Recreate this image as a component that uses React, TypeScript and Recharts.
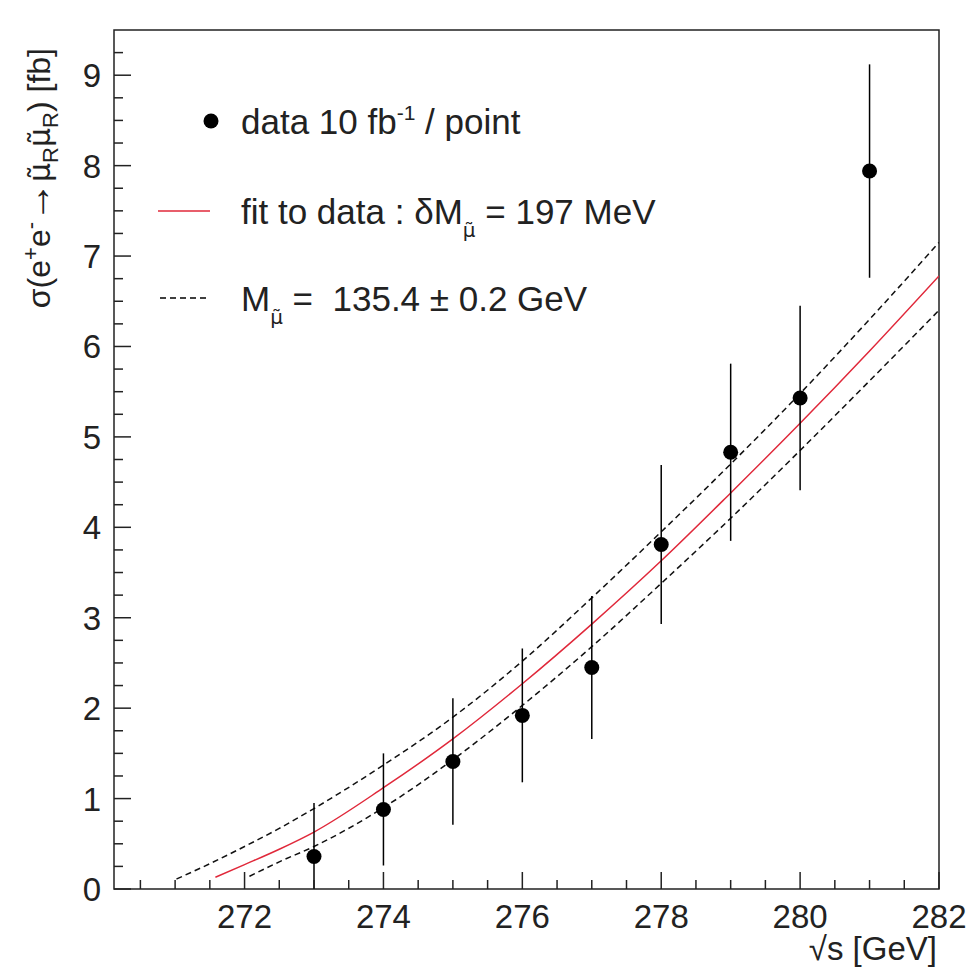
import { ComposedChart, Line, Scatter, ErrorBar, XAxis, YAxis, ReferenceArea } from 'recharts';

// measured points, one per sqrt(s)
const sqrtS = [273, 274, 275, 276, 277, 278, 279, 280, 281];
const sigma = [0.36, 0.88, 1.41, 1.92, 2.45, 3.81, 4.83, 5.43, 7.94];
const sigmaErr = [0.59, 0.62, 0.7, 0.74, 0.79, 0.88, 0.98, 1.02, 1.18];

// fitted curve (red)
const fitX = [271.58, 272, 272.5, 273, 274, 275, 276, 277, 278, 279, 280, 281, 282];
const fitY = [0.13, 0.27, 0.44, 0.63, 1.12, 1.66, 2.27, 2.93, 3.63, 4.38, 5.15, 5.95, 6.78];

// mass - 0.2 GeV (upper dashed)
const upperX = [271.02, 271.5, 272, 272.5, 273, 274, 275, 276, 277, 278, 279, 280, 281, 282];
const upperY = [0.11, 0.28, 0.47, 0.67, 0.89, 1.37, 1.9, 2.52, 3.22, 3.95, 4.7, 5.48, 6.3, 7.15];

// mass + 0.2 GeV (lower dashed)
const lowerX = [272.07, 272.5, 273, 274, 275, 276, 277, 278, 279, 280, 281, 282];
const lowerY = [0.14, 0.3, 0.47, 0.9, 1.43, 2.03, 2.68, 3.38, 4.1, 4.85, 5.62, 6.4];

const xMajorTicks = [272, 274, 276, 278, 280, 282];
const yMajorTicks = [0, 1, 2, 3, 4, 5, 6, 7, 8, 9];

const X_MIN = 270.12;
const X_MAX = 282;
const Y_MAX = 9.5;

const FONT = '"Liberation Sans", Arial, Helvetica, sans-serif';
const INK = '#222';
const RED = '#e0283a';
const SMUON = 'μ\u0303'; // mu with combining tilde

// error bars stop at the frame like in ROOT (lower arm cut at 0)
const points = sqrtS.map((x, i) => ({
  x,
  y: sigma[i],
  err: [Math.min(sigmaErr[i], sigma[i]), sigmaErr[i]],
}));
const fit = fitX.map((x, i) => ({ x, y: fitY[i] }));
const upper = upperX.map((x, i) => ({ x, y: upperY[i] }));
const lower = lowerX.map((x, i) => ({ x, y: lowerY[i] }));

// ROOT-style subdivisions: 0.5 GeV on x, 0.25 fb on y
const xTicks: number[] = [];
for (let v = 270.5; v <= X_MAX; v += 0.5) xTicks.push(v);
const yTicks: number[] = [];
for (let v = 0; v < Y_MAX; v += 0.25) yTicks.push(v);

function XTick({ x, y, payload }: any) {
  const major = xMajorTicks.includes(payload.value);
  return (
    <g>
      <line x1={x} y1={y} x2={x} y2={y - (major ? 17 : 9)} stroke={INK} strokeWidth={1.5} />
      {major && (
        <text x={x} y={y + 39} textAnchor="middle" fontSize={33} fill={INK} fontFamily={FONT}>
          {payload.value}
        </text>
      )}
    </g>
  );
}

function YTick({ x, y, payload }: any) {
  const major = yMajorTicks.includes(payload.value);
  return (
    <g>
      <line x1={x} y1={y} x2={x + (major ? 17 : 9)} y2={y} stroke={INK} strokeWidth={1.5} />
      {major && (
        <text x={x - 13} y={y + 12} textAnchor="end" fontSize={33} fill={INK} fontFamily={FONT}>
          {payload.value}
        </text>
      )}
    </g>
  );
}

const Dot = (props: any) => <circle cx={props.cx} cy={props.cy} r={7.5} fill="#000" />;

function Labels() {
  return (
    <svg
      width={973}
      height={967}
      style={{ position: 'absolute', left: 0, top: 0, pointerEvents: 'none' }}
      fontFamily={FONT}
      fill={INK}
    >
      {/* y title */}
      <text transform="translate(50, 48) rotate(-90)" textAnchor="end" fontSize={32}>
        σ(e
        <tspan dy={-12} fontSize={22}>+</tspan>
        <tspan dy={12}>e</tspan>
        <tspan dy={-12} fontSize={22}>-</tspan>
        <tspan dy={12} fontSize={40}>→</tspan>
        <tspan fontFamily="DejaVu Sans" fontSize={30}>{SMUON}</tspan>
        <tspan dy={8} fontSize={22}>R</tspan>
        <tspan dy={-8} fontFamily="DejaVu Sans" fontSize={30}>{SMUON}</tspan>
        <tspan dy={8} fontSize={22}>R</tspan>
        <tspan dy={-8}>{')\u00a0[fb]'}</tspan>
      </text>
      {/* x title */}
      <text x={937} y={960} textAnchor="end" fontSize={33}>
        √s [GeV]
      </text>

      {/* legend */}
      <circle cx={211} cy={121} r={7.5} fill="#000" />
      <text x={241} y={134} fontSize={35}>
        data 10 fb<tspan dy={-14} fontSize={21}>-1</tspan>
        <tspan dy={14}> / point</tspan>
      </text>

      <line x1={158} y1={211} x2={210} y2={211} stroke={RED} strokeWidth={1.5} />
      <text x={241} y={224} fontSize={35}>
        fit to data : δM
        <tspan dy={13} fontFamily="DejaVu Sans" fontSize={20}>{SMUON}</tspan>
        <tspan dy={-13}> = 197 MeV</tspan>
      </text>

      <line x1={160} y1={298} x2={210} y2={298} stroke="#000" strokeWidth={1.5} strokeDasharray="6 4" />
      <text x={241} y={311} fontSize={35}>
        M
        <tspan dy={13} fontFamily="DejaVu Sans" fontSize={20}>{SMUON}</tspan>
        <tspan dy={-13}>{' =\u00a0\u00a0135.4 ± 0.2 GeV'}</tspan>
      </text>
    </svg>
  );
}

export default function App() {
  return (
    <div style={{ position: 'absolute', left: 0, top: 0, width: 973, height: 967, background: '#fff' }}>
      <ComposedChart width={973} height={967} margin={{ top: 30, right: 34, bottom: 38, left: 54 }}>
        <XAxis
          dataKey="x"
          type="number"
          domain={[X_MIN, X_MAX]}
          ticks={xTicks}
          interval={0}
          allowDataOverflow
          height={40}
          tickSize={0}
          tickMargin={0}
          axisLine={false}
          tickLine={false}
          tick={<XTick />}
        />
        <YAxis
          type="number"
          domain={[0, Y_MAX]}
          ticks={yTicks}
          interval={0}
          allowDataOverflow
          width={60}
          tickSize={0}
          tickMargin={0}
          axisLine={false}
          tickLine={false}
          tick={<YTick />}
        />
        <ReferenceArea x1={X_MIN} x2={X_MAX} y1={0} y2={Y_MAX} fill="none" stroke={INK} strokeWidth={1.5} ifOverflow="visible" />
        <Line data={upper} dataKey="y" type="monotone" stroke="#111" strokeWidth={1.5} strokeDasharray="6 4" dot={false} isAnimationActive={false} />
        <Line data={lower} dataKey="y" type="monotone" stroke="#111" strokeWidth={1.5} strokeDasharray="6 4" dot={false} isAnimationActive={false} />
        <Line data={fit} dataKey="y" type="monotone" stroke={RED} strokeWidth={1.5} dot={false} isAnimationActive={false} />
        <Scatter data={points} dataKey="y" shape={<Dot />} isAnimationActive={false}>
          <ErrorBar dataKey="err" direction="y" width={0} stroke="#000" strokeWidth={1.5} isAnimationActive={false} />
        </Scatter>
      </ComposedChart>
      <Labels />
    </div>
  );
}
